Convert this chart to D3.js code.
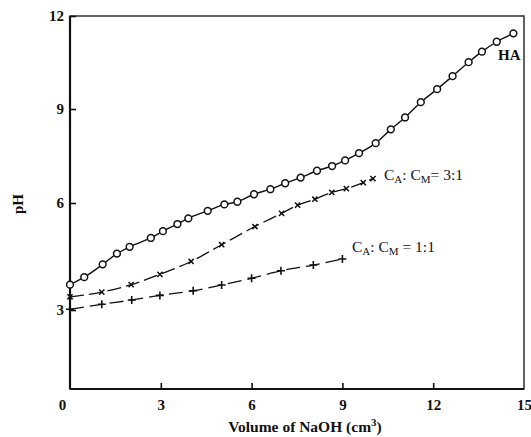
<!DOCTYPE html>
<html>
<head>
<meta charset="utf-8">
<script src="https://cdn.jsdelivr.net/npm/d3@7"></script>
<style>
  body { margin: 0; background: #fff; }
  text { font-family: "Liberation Serif", "DejaVu Serif", serif; fill: #111; }
</style>
</head>
<body>
<svg id="chart" width="531" height="437"></svg>
<script>
// titration curves
var haVol = [0, 0.47, 1.08, 1.55, 1.97, 2.67, 3.07, 3.55, 3.91, 4.55, 5.10, 5.53, 6.08, 6.62, 7.11, 7.62,
             8.16, 8.66, 9.09, 9.55, 10.10, 10.60, 11.07, 11.59, 12.13, 12.64, 13.17, 13.61, 14.10, 14.65];
var haPH  = [3.71, 3.92, 4.28, 4.58, 4.77, 5.02, 5.21, 5.41, 5.57, 5.78, 5.96, 6.04, 6.28, 6.44, 6.63, 6.81,
             7.03, 7.18, 7.36, 7.59, 7.91, 8.35, 8.73, 9.22, 9.64, 10.06, 10.51, 10.85, 11.17, 11.44];

var mix31Vol = [0, 1.05, 2.02, 2.97, 4.00, 5.01, 6.11, 6.99, 7.52, 8.09, 8.65, 9.13, 9.69, 10.01];
var mix31PH  = [3.37, 3.50, 3.71, 4.00, 4.36, 4.83, 5.34, 5.71, 5.94, 6.12, 6.34, 6.46, 6.65, 6.78];

var mix11Vol = [0, 1.05, 2.04, 2.97, 4.07, 5.01, 6.00, 6.97, 8.04, 9.00];
var mix11PH  = [3.02, 3.16, 3.28, 3.41, 3.54, 3.70, 3.89, 4.10, 4.26, 4.43];

var xTicks = [0, 3, 6, 9, 12, 15];
var yTicks = [3, 6, 9, 12];

var margin = {top: 16, right: 7, bottom: 48, left: 70};
var width = 531 - margin.left - margin.right,
    height = 437 - margin.top - margin.bottom;

var svg = d3.select("#chart");
var g = svg.append("g").attr("transform", "translate(" + margin.left + "," + margin.top + ")");

var x = d3.scaleLinear().domain([0, 15]).range([0, width]);
// the printed axis is not evenly spaced, so map each labelled value
var y = d3.scaleLinear().domain([3, 6, 9, 12]).range([294, 187, 93, 0]);

function zip(a, b) { return a.map(function(v, i) { return [v, b[i]]; }); }

// frame
g.append("rect")
  .attr("width", width).attr("height", height)
  .attr("fill", "none").attr("stroke", "#222").attr("stroke-width", 1.4);
g.append("line").attr("x1", 0).attr("x2", 0).attr("y1", 0).attr("y2", height)
  .attr("stroke", "#111").attr("stroke-width", 2.2);
g.append("line").attr("x1", 0).attr("x2", width).attr("y1", height).attr("y2", height)
  .attr("stroke", "#111").attr("stroke-width", 2);

// axes, ticks pointing inward
var xAxis = d3.axisBottom(x).tickValues(xTicks).tickSizeInner(-6).tickSizeOuter(0).tickPadding(10);
var gx = g.append("g").attr("transform", "translate(0," + height + ")").call(xAxis);
gx.select(".domain").remove();
gx.selectAll(".tick line").attr("stroke", "#111").attr("stroke-width", 1.6)
  .filter(function(d) { return d === 0 || d === 15; }).remove();
gx.selectAll(".tick text")
  .style("font-size", "15px").style("font-weight", "bold")
  .attr("font-family", null)
  .attr("dx", function(d) { return d === 0 ? -8 : 0; });

var yAxis = d3.axisLeft(y).tickValues(yTicks).tickSizeInner(-6).tickSizeOuter(0).tickPadding(6);
var gy = g.append("g").call(yAxis);
gy.select(".domain").remove();
gy.selectAll(".tick line").attr("stroke", "#111").attr("stroke-width", 1.6);
gy.selectAll(".tick text")
  .style("font-size", "15px").style("font-weight", "bold")
  .attr("font-family", null);

// axis titles
svg.append("text")
  .attr("x", 305).attr("y", 432)
  .attr("text-anchor", "middle")
  .style("font-size", "15.5px").style("font-weight", "bold")
  .text("Volume of NaOH (cm")
  .append("tspan").attr("dy", -6).style("font-size", "11px").text("3")
  .select(function() { return this.parentNode; })
  .append("tspan").attr("dy", 6).text(")");

svg.append("text")
  .attr("transform", "translate(23,204)rotate(-90)")
  .attr("text-anchor", "middle")
  .style("font-size", "15px").style("font-weight", "bold")
  .text("pH");

var line = d3.line()
  .x(function(d) { return x(d[0]); })
  .y(function(d) { return y(d[1]); })
  .curve(d3.curveMonotoneX);

// HA: solid line, open circles
var ha = zip(haVol, haPH);
g.append("path").datum(ha).attr("d", line)
  .attr("fill", "none").attr("stroke", "#111").attr("stroke-width", 1.4);
g.selectAll(".ha").data(ha).enter().append("circle")
  .attr("class", "ha")
  .attr("cx", function(d) { return x(d[0]); })
  .attr("cy", function(d) { return y(d[1]); })
  .attr("r", 3.4)
  .attr("fill", "#fff").attr("stroke", "#111").attr("stroke-width", 1.5);

// 3:1 mixture, dashed line with crosses
var m31 = zip(mix31Vol, mix31PH);
g.append("path").datum(m31).attr("d", line)
  .attr("fill", "none").attr("stroke", "#111").attr("stroke-width", 1.3)
  .attr("stroke-dasharray", "14,5");
g.selectAll(".m31").data(m31).enter().append("path")
  .attr("class", "m31")
  .attr("transform", function(d) { return "translate(" + x(d[0]) + "," + y(d[1]) + ")"; })
  .attr("d", "M-2.6,-2.6L2.6,2.6M-2.6,2.6L2.6,-2.6")
  .attr("stroke", "#111").attr("stroke-width", 1.5);

// 1:1 mixture, dashed line with plus signs
var m11 = zip(mix11Vol, mix11PH);
g.append("path").datum(m11).attr("d", line)
  .attr("fill", "none").attr("stroke", "#111").attr("stroke-width", 1.3)
  .attr("stroke-dasharray", "14,6");
g.selectAll(".m11").data(m11).enter().append("path")
  .attr("class", "m11")
  .attr("transform", function(d) { return "translate(" + x(d[0]) + "," + y(d[1]) + ")"; })
  .attr("d", "M-4,0L4,0M0,-4L0,4")
  .attr("stroke", "#111").attr("stroke-width", 1.6);

// curve labels
svg.append("text").attr("x", 498).attr("y", 60)
  .style("font-size", "15px").style("font-weight", "bold").text("HA");

function ratioLabel(xp, yp, sep, ratio) {
  var t = svg.append("text").attr("x", xp).attr("y", yp).style("font-size", "15.5px");
  t.append("tspan").text("C");
  t.append("tspan").attr("dy", 3).style("font-size", "11px").text("A");
  t.append("tspan").attr("dy", -3).text(": C");
  t.append("tspan").attr("dy", 3).style("font-size", "11px").text("M");
  t.append("tspan").attr("dy", -3).text(sep + ratio);
}
ratioLabel(384, 180, "= ", "3:1");
ratioLabel(352, 252, " = ", "1:1");
</script>
</body>
</html>
